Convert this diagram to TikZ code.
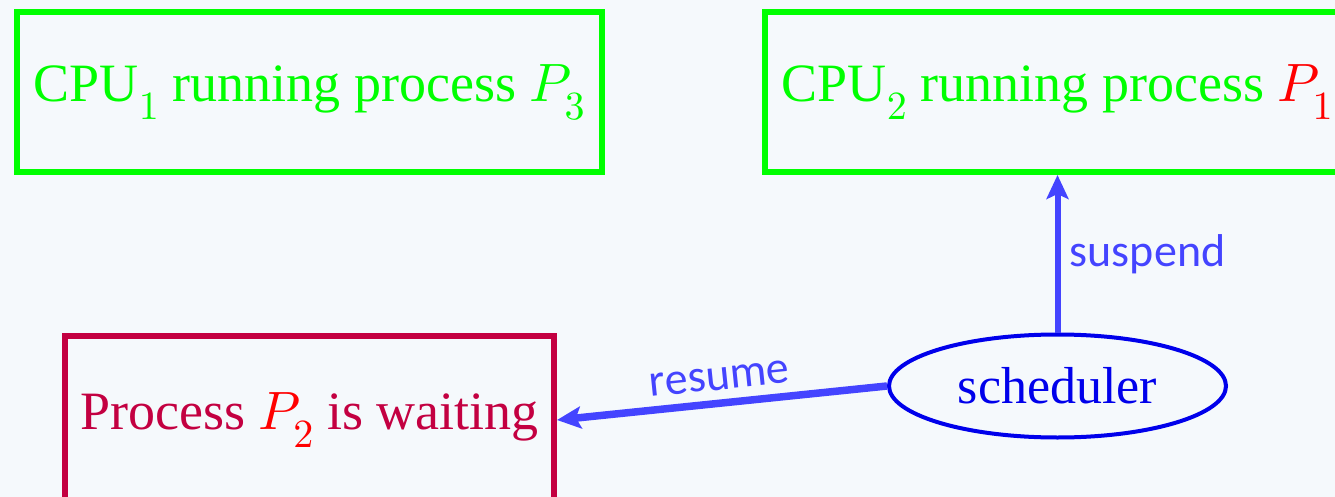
\documentclass[tikz,border=0pt]{standalone}
\DeclareFontShape{OML}{cmm}{m}{it}{<->cmmi10}{}
\DeclareFontShape{OT1}{cmr}{m}{n}{<->cmr10}{}
\DeclareMathSizes{54}{54}{40}{30}
\usepackage[no-math]{fontspec}
\setmainfont{Liberation Serif}
\newfontfamily\labelfont{Carlito}
\usetikzlibrary{arrows.meta,shapes.geometric}
\definecolor{bgc}{RGB}{245,249,252}
\definecolor{boxgreen}{RGB}{0,255,0}
\definecolor{crimsonc}{RGB}{195,0,65}
\definecolor{arrowblue}{RGB}{68,68,255}
\definecolor{ellblue}{RGB}{0,0,235}
\tikzset{
  cpubox/.style={draw=boxgreen, line width=6pt, text=boxgreen, minimum width=585pt, minimum height=160pt, inner sep=0pt, font=\fontsize{54}{60}\selectfont},
  waitbox/.style={draw=crimsonc, line width=6pt, text=crimsonc, minimum width=489pt, minimum height=168pt, inner sep=0pt, font=\fontsize{54}{60}\selectfont},
  schednode/.style={ellipse, draw=ellblue, line width=4pt, text=ellblue, minimum width=337pt, minimum height=103pt, inner sep=0pt, font=\fontsize{52}{58}\selectfont},
  conn/.style={draw=arrowblue, -{Stealth[length=24pt,width=22pt,inset=5pt]}},
  lbl/.style={text=arrowblue, font=\labelfont\fontsize{46}{50}\selectfont},
}
\begin{document}
\begin{tikzpicture}[x=1pt,y=-1pt]
\fill[bgc] (0,0) rectangle (1335,497);
\useasboundingbox (0,0) rectangle (1335,497);
\begin{scope}
\clip (0,0) rectangle (1335,497);
\node[cpubox] (cpu1) at (309.5,92) {CPU$_1$ running process $P_3$};
\node[cpubox] (cpu2) at (1057.5,92) {CPU$_2$ running process \textcolor{red}{$P_1$}};
\node[waitbox] (wait) at (309.5,420) {Process \textcolor{red}{$P_2$} is waiting};
\node[schednode] (sched) at (1057.5,386) {scheduler};
\draw[conn, line width=6pt] (sched.north) -- node[lbl, right=6pt] (lsus) {suspend} (cpu2.south);
\draw[conn, line width=7.5pt] (sched.west) -- node[lbl, above=6pt, sloped] (lres) {resume} (wait.east);
\end{scope}
\end{tikzpicture}
\end{document}
